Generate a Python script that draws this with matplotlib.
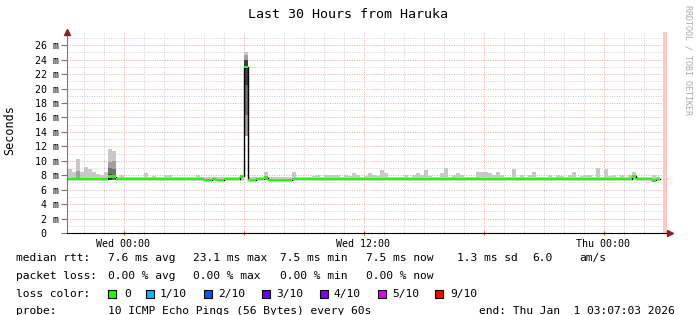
import matplotlib
matplotlib.use("Agg")
import matplotlib.pyplot as plt
from matplotlib.patches import Rectangle
import numpy as np

plt.rcParams['font.family'] = ['DejaVu Sans Mono', 'DejaVu Sans']

# --- data (hours relative to Wed 00:00, 12 minute bins) ---
bin_start = -2.8
bin_hours = 0.2

# top of smoke (max ping) per bin, ms
smoke_hi = [
    8.85, 8.4, 10.2, 8.5, 9.1, 8.9, 8.5, 8.2, 8.1, 8.4,
    11.6, 11.3, 7.75, 8.1, 7.75, 7.75, 7.75, 7.75, 7.75, 8.3,
    7.75, 7.9, 7.75, 7.75, 8.0, 8.0, 7.75, 7.75, 7.75, 7.8,
    7.75, 7.75, 8.0, 7.75, 7.75, 7.75, 7.75, 7.75, 7.75, 7.75,
    7.75, 7.75, 7.75, 7.9, 25.0, 7.75, 7.75, 7.75, 7.75, 8.4,
    7.75, 7.75, 7.75, 7.75, 7.75, 7.75, 8.4, 7.75, 7.75, 7.75,
    7.75, 7.9, 8.0, 7.75, 8.0, 8.0, 8.0, 8.0, 7.75, 8.0,
    7.9, 8.3, 8.0, 7.75, 7.9, 8.3, 8.1, 7.9, 8.7, 8.3,
    7.8, 7.75, 7.8, 7.75, 8.0, 7.75, 8.1, 8.3, 8.0, 8.7,
    7.9, 7.75, 7.75, 8.3, 9.0, 7.75, 8.0, 8.3, 8.0, 7.75,
    7.75, 7.75, 8.4, 8.4, 8.5, 8.3, 8.0, 8.4, 8.0, 7.75,
    7.75, 8.85, 7.75, 8.0, 7.75, 8.0, 8.4, 7.75, 7.8, 7.75,
    8.1, 7.75, 8.1, 7.9, 7.75, 8.0, 8.4, 7.75, 7.9, 8.1,
    8.1, 7.75, 9.0, 7.75, 8.9, 7.9, 8.0, 7.75, 8.0, 7.75,
    8.0, 8.4, 7.75, 7.75, 7.75, 7.75, 8.1, 7.75,
]

# median rtt per bin, ms
median = [
    7.5, 7.5, 7.5, 7.5, 7.5, 7.5, 7.5, 7.5, 7.5, 7.5,
    7.8, 7.8, 7.5, 7.5, 7.5, 7.5, 7.5, 7.5, 7.5, 7.5,
    7.5, 7.5, 7.5, 7.5, 7.5, 7.5, 7.5, 7.5, 7.5, 7.5,
    7.5, 7.5, 7.5, 7.5, 7.35, 7.35, 7.5, 7.35, 7.35, 7.5,
    7.5, 7.5, 7.5, 7.85, 23.0, 7.35, 7.35, 7.5, 7.5, 7.65,
    7.35, 7.35, 7.35, 7.35, 7.35, 7.35, 7.5, 7.5, 7.5, 7.5,
    7.5, 7.5, 7.5, 7.5, 7.5, 7.5, 7.5, 7.5, 7.5, 7.5,
    7.5, 7.5, 7.5, 7.5, 7.5, 7.5, 7.5, 7.5, 7.5, 7.5,
    7.5, 7.5, 7.5, 7.5, 7.5, 7.5, 7.5, 7.5, 7.5, 7.5,
    7.5, 7.5, 7.5, 7.5, 7.5, 7.5, 7.5, 7.5, 7.5, 7.5,
    7.5, 7.5, 7.5, 7.5, 7.5, 7.5, 7.5, 7.5, 7.5, 7.5,
    7.5, 7.5, 7.5, 7.5, 7.5, 7.5, 7.5, 7.5, 7.5, 7.5,
    7.5, 7.5, 7.5, 7.5, 7.5, 7.5, 7.5, 7.5, 7.5, 7.5,
    7.5, 7.5, 7.5, 7.5, 7.5, 7.5, 7.5, 7.5, 7.5, 7.5,
    7.5, 7.85, 7.5, 7.5, 7.5, 7.5, 7.3, 7.5,
]

# bottom of smoke: default, with a few bins read separately
smoke_lo_default = 7.4
lo_bins = [43, 44]
lo_vals = [7.2, 13.5]

# darker inner smoke layers (sparse)
mid_bins = [2, 10, 11, 44]
mid_lo = [7.4, 7.4, 7.4, 13.5]
mid_hi = [8.6, 9.9, 10.0, 24.6]
dark_bins = [10, 11, 44]
dark_lo = [7.4, 7.4, 16.3]
dark_hi = [8.95, 8.9, 24.0]
core_bins = [10, 44]
core_lo = [7.4, 20.5]
core_hi = [8.2, 24.0]

x_ticks = [0, 6, 12, 18, 24]
x_labels = ["Wed 00:00", "", "Wed 12:00", "", "Thu 00:00"]
y_ticks = list(range(0, 27, 2))
y_labels = ["0  "] + ["%2d m" % v for v in y_ticks[1:]]

legend_rows = [
    [(16, "median rtt:"), (108, "7.6 ms avg"), (193, "23.1 ms max"), (280, "7.5 ms min"),
     (366, "7.5 ms now"), (457, "1.3 ms sd"), (532, "6.0"), (579, "am/s")],
    [(16, "packet loss:"), (108, "0.00 % avg"), (193, "0.00 % max"),
     (280, "0.00 % min"), (366, "0.00 % now")],
    [(16, "loss color:")],
    [(16, "probe:"), (108, "10 ICMP Echo Pings (56 Bytes) every 60s"),
     (479, "end: Thu Jan  1 03:07:03 2026")],
]
loss_names = ["0", "1/10", "2/10", "3/10", "4/10", "5/10", "9/10"]
loss_colors = ["#20ff00", "#00b8ff", "#0059ff", "#5e00ff", "#7e00ff", "#dd00ff", "#ff0000"]
loss_box_x = [108, 146, 204, 262, 320, 378, 435]
loss_txt_x = [124, 160, 218, 276, 334, 392, 450]

# --- figure ---
W, H = 697, 315
fig = plt.figure(figsize=(W / 100, H / 100), dpi=100)
ax = fig.add_axes([67 / W, (H - 233) / H, (667 - 67) / W, (233 - 31.5) / H])

n = len(median)
edges = bin_start + bin_hours * np.arange(n)
med = np.array(median)
hi = np.array(smoke_hi)
lo = np.full(n, smoke_lo_default)
lo[lo_bins] = lo_vals

ax.bar(edges, hi - lo, bottom=lo, width=bin_hours, align='edge', color='#c8c8c8', lw=0, zorder=2)
for bins, b, t, c in [(mid_bins, mid_lo, mid_hi, '#a0a0a0'),
                      (dark_bins, dark_lo, dark_hi, '#707070'),
                      (core_bins, core_lo, core_hi, '#404040')]:
    xs = edges[bins]
    ax.bar(xs, np.array(t) - np.array(b), bottom=b, width=bin_hours, align='edge',
           color=c, lw=0, zorder=3)

# median line then loss-colour band
xs = np.append(edges, edges[-1] + bin_hours)
ax.step(xs, np.append(med, med[-1]), where='post', color='black', lw=1, zorder=4)
ax.bar(edges, 0.36, bottom=med - 0.18, width=bin_hours, align='edge', color='#20ff00', lw=0, zorder=5)

ax.set_xlim(-2.825, 27.175)
ax.set_ylim(0, 27.9)

ax.set_yticks(y_ticks)
ax.set_yticklabels(y_labels)
ax.set_yticks(np.arange(0, 28), minor=True)
ax.set_xticks(x_ticks)
ax.set_xticklabels(x_labels)
ax.set_xticks(np.arange(-2, 28), minor=True)

ax.set_axisbelow(True)
ax.grid(which='major', color='#eaa8a8', ls=(0, (1, 1.5)), lw=0.7)
ax.grid(which='minor', color='#d0d0d0', ls=(0, (1, 1.5)), lw=0.7)

ax.axvline(27.06, color='#ffc8c8', lw=3, zorder=1)

for s in ['top', 'right']:
    ax.spines[s].set_visible(False)
ax.spines['left'].set_color('#777777')
ax.spines['bottom'].set_color('black')

ax.tick_params(axis='y', which='major', length=4, color='#777777', pad=1.5, labelsize=7.2)
ax.tick_params(axis='y', which='minor', length=0)
ax.tick_params(axis='x', which='major', length=3, direction='inout', color='#cc4444', pad=3, labelsize=7.2)
ax.tick_params(axis='x', which='minor', length=2, direction='inout', color='#aaaaaa')

# axis arrows
ax.plot([0], [1.0], marker='^', ms=5, color='#8b2020', transform=ax.transAxes, clip_on=False, zorder=6)
ax.plot([1.005], [0], marker='>', ms=5, color='#8b2020', transform=ax.transAxes, clip_on=False, zorder=6)

# titles and side texts
fig.text(0.5, 1 - 14 / H, "Last 30 Hours from Haruka", ha='center', va='center', fontsize=9.6)
fig.text(10 / W, 1 - 130 / H, "Seconds", rotation=90, ha='center', va='center', fontsize=8.5)
fig.text(688 / W, 1 - 5 / H, "RRDTOOL / TOBI OETIKER", rotation=270, ha='center', va='top',
         fontsize=6, color='#aaaaaa')

# legend
row_y = [258, 276, 294, 311]
for y, row in zip(row_y, legend_rows):
    for x, t in row:
        fig.text(x / W, 1 - y / H, t, ha='left', va='center', fontsize=8.1)
for bx, tx, name, c in zip(loss_box_x, loss_txt_x, loss_names, loss_colors):
    fig.add_artist(Rectangle((bx / W, 1 - (row_y[2] + 4) / H), 8 / W, 8 / H,
                             transform=fig.transFigure, facecolor=c, edgecolor='black', lw=0.8))
    fig.text(tx / W, 1 - row_y[2] / H, name, ha='left', va='center', fontsize=8.1)

fig.savefig("out.png", dpi=100)
